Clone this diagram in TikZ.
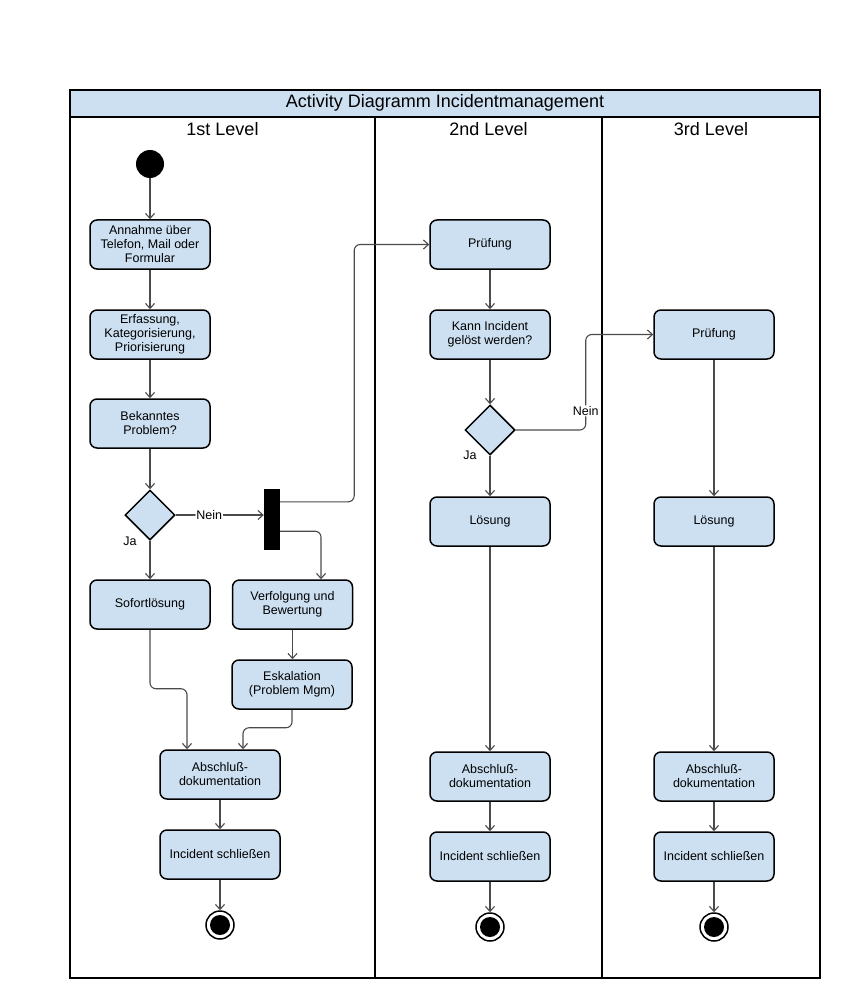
\documentclass[tikz,border=0pt]{standalone}
\usepackage{fontspec}
\setmainfont{Liberation Sans}
\usetikzlibrary{shapes.geometric,arrows.meta,calc}
\definecolor{boxblue}{RGB}{204,224,242}
\definecolor{conngray}{RGB}{75,75,75}
\begin{document}
\begin{tikzpicture}[x=1pt,y=-1pt,
  actbox/.style={draw=black, line width=1.5pt, fill=boxblue, rounded corners=7pt,
    minimum width=120pt, minimum height=49pt, align=center, inner sep=2pt,
    font=\fontsize{12.5}{14}\selectfont},
  decbox/.style={draw=black, line width=1.5pt, fill=boxblue, diamond,
    minimum width=50pt, minimum height=50pt, inner sep=0pt},
  startst/.style={circle, fill=black, minimum size=28pt, inner sep=0pt},
  endst/.style={circle, draw=black, fill=white, line width=1.5pt, minimum size=28pt, inner sep=0pt,
    path picture={\fill[black] (path picture bounding box.center) circle (10pt);}},
  forkbar/.style={fill=black, minimum width=16pt, minimum height=61pt, inner sep=0pt},
  conn/.style={draw=conngray, line width=1.1pt, rounded corners=6pt,
    -{Straight Barb[length=5pt,width=9pt,line width=1.1pt]}},
  lbl/.style={font=\fontsize{12.5}{14}\selectfont, inner sep=1pt},
  lanelbl/.style={font=\fontsize{18}{20}\selectfont},
  frame/.style={draw=black, line width=2pt}
]
\useasboundingbox (0,0) rectangle (842,1000);

% frame and lanes
\draw[frame] (70,90) rectangle (820,978);
\draw[frame, fill=boxblue] (70,90) rectangle (820,117);
\draw[frame] (375,117) -- (375,978);
\draw[frame] (602,117) -- (602,978);
\node[lanelbl] (title) at (445,103) {Activity Diagramm Incidentmanagement};
\node[lanelbl] (l1) at (222.5,129) {1st Level};
\node[lanelbl] (l2) at (488.5,129) {2nd Level};
\node[lanelbl] (l3) at (711,129) {3rd Level};

% lane 1
\node[startst] (s1) at (150,164) {};
\node[actbox] (ann) at (150,244.5) {Annahme über\\Telefon, Mail oder\\Formular};
\node[actbox] (erf) at (150,334.5) {Erfassung,\\Kategorisierung,\\Priorisierung};
\node[actbox] (bek) at (150,423.5) {Bekanntes\\Problem?};
\node[decbox] (d1) at (150,515) {};
\node[actbox] (sof) at (150,604.5) {Sofortlösung};
\node[forkbar] (bar) at (272,519.5) {};
\node[actbox] (ver) at (292.5,604.5) {Verfolgung und\\Bewertung};
\node[actbox] (esk) at (292,684.5) {Eskalation\\(Problem Mgm)};
\node[actbox] (ab1) at (220,774.5) {Abschluß-\\dokumentation};
\node[actbox] (is1) at (220,854.5) {Incident schließen};
\node[endst] (e1) at (220,925) {};

% lane 2
\node[actbox] (pr2) at (490,244.5) {Prüfung};
\node[actbox] (kann) at (490,334.5) {Kann Incident\\gelöst werden?};
\node[decbox] (d2) at (490,430) {};
\node[actbox] (lo2) at (490,521.5) {Lösung};
\node[actbox] (ab2) at (490,776.5) {Abschluß-\\dokumentation};
\node[actbox] (is2) at (490,856.5) {Incident schließen};
\node[endst] (e2) at (490,927) {};

% lane 3
\node[actbox] (pr3) at (714,334.5) {Prüfung};
\node[actbox] (lo3) at (714,521.5) {Lösung};
\node[actbox] (ab3) at (714,776.5) {Abschluß-\\dokumentation};
\node[actbox] (is3) at (714,856.5) {Incident schließen};
\node[endst] (e3) at (714,927) {};

% connectors lane 1
\draw[conn] (s1) -- (ann);
\draw[conn] (ann) -- (erf);
\draw[conn] (erf) -- (bek);
\draw[conn] (bek) -- (d1.north);
\draw[conn] (d1.south) -- (d1.south |- sof.north);
\node[lbl] (ja1) at (130,541) {Ja};
\draw[conn] (d1.east) -- node[lbl, fill=white, pos=0.38] (nein1) {Nein} (d1.east -| bar.west);
\draw[conn] ([yshift=-13pt]bar.north east) -- ++(74,0) |- (pr2.west);
\draw[conn] ([yshift=19pt]bar.south east) -| ([xshift=28.5pt]ver.north);
\draw[conn] (ver) -- (ver.south |- esk.north);
\draw[conn] (sof.south) -- ++(0,59) -| ([xshift=-33pt]ab1.north);
\draw[conn] (esk.south) -- ++(0,18) -| ([xshift=23pt]ab1.north);
\draw[conn] (ab1) -- (is1);
\draw[conn] (is1) -- (e1);

% connectors lane 2
\draw[conn] (pr2) -- (kann);
\draw[conn] (kann) -- (d2.north);
\draw[conn] (d2.south) -- (lo2.north);
\node[lbl] (ja2) at (470,455) {Ja};
\draw[conn] (d2.east) -- ++(70,0) |- node[lbl, fill=white, pos=0.1] (nein2) {Nein} (pr3.west);
\draw[conn] (lo2) -- (ab2);
\draw[conn] (ab2) -- (is2);
\draw[conn] (is2) -- (e2);

% connectors lane 3
\draw[conn] (pr3) -- (lo3);
\draw[conn] (lo3) -- (ab3);
\draw[conn] (ab3) -- (is3);
\draw[conn] (is3) -- (e3);
\end{tikzpicture}
\end{document}
